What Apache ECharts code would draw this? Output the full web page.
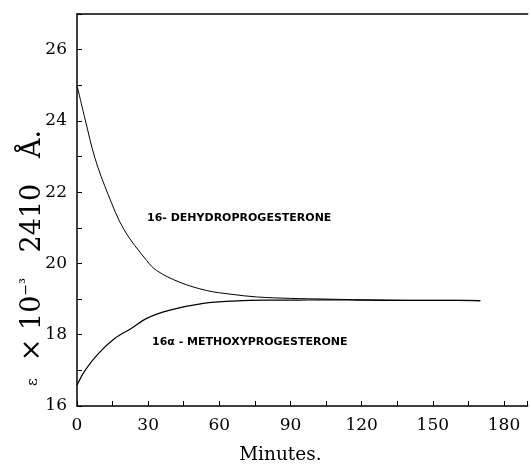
<!DOCTYPE html>
<html>
<head>
<meta charset="utf-8">
<script src="https://cdn.jsdelivr.net/npm/echarts@6/dist/echarts.min.js"></script>
<style>
html,body{margin:0;padding:0;background:#fff;}
#c{width:531px;height:470px;}
</style>
</head>
<body>
<div id="c"></div>
<script>
// Data
var dehydroT = [0, 3.4, 7.6, 13.1, 19.8, 29.4, 33.6, 43.4, 54.7, 64.5, 75.7, 90, 105, 120, 140, 160, 170];
var dehydroV = [25.0, 24.05, 22.95, 21.94, 20.95, 20.08, 19.8, 19.47, 19.24, 19.14, 19.06, 19.02, 19.0, 18.98, 18.97, 18.97, 18.96];
var methoxyT = [0, 3.4, 9.0, 16.0, 23.0, 29.4, 39.2, 53.3, 67.3, 78.5, 90, 105, 120, 140, 160, 170];
var methoxyV = [16.58, 17.0, 17.47, 17.9, 18.18, 18.46, 18.69, 18.88, 18.95, 18.97, 18.97, 18.98, 18.97, 18.96, 18.96, 18.95];
var xTickLabels = [0, 30, 60, 90, 120, 150, 180];
var yTickLabels = [16, 18, 20, 22, 24, 26];
var seriesNames = ['16- DEHYDROPROGESTERONE', '16\u03b1 - METHOXYPROGESTERONE'];

function pairs(t, v) { return t.map(function (x, i) { return [x, v[i]]; }); }

var serif = 'DejaVu Serif';
var chart = echarts.init(document.getElementById('c'), null, {renderer: 'canvas'});
chart.setOption({
  backgroundColor: '#fff',
  animation: false,
  grid: {left: 77, top: 14, right: 3.3, bottom: 57, containLabel: false},
  xAxis: [{
    type: 'value', min: 0, max: 190, interval: 15,
    name: 'Minutes.', nameLocation: 'middle', nameGap: 40,
    nameTextStyle: {fontFamily: serif, fontSize: 18.5, color: '#000', padding: [0, 44, 0, 0]},
    axisLine: {show: true, lineStyle: {color: '#000', width: 1.5}},
    axisTick: {show: true, inside: true, length: 5, lineStyle: {color: '#000', width: 1}},
    axisLabel: {
      fontFamily: serif, fontSize: 17, color: '#000', margin: 11,
      formatter: function (v) { return xTickLabels.indexOf(v) >= 0 ? String(v) : ''; }
    },
    splitLine: {show: false}
  }, {
    type: 'value', min: 0, max: 190, position: 'top',
    axisLine: {show: true, lineStyle: {color: '#000', width: 1.5}},
    axisTick: {show: false}, axisLabel: {show: false}, splitLine: {show: false}
  }],
  yAxis: {
    type: 'value', min: 16, max: 27, interval: 1,
    axisLine: {show: true, lineStyle: {color: '#000', width: 1.5}},
    axisTick: {show: true, inside: true, length: 5, lineStyle: {color: '#000', width: 1}},
    axisLabel: {
      fontFamily: serif, fontSize: 17, color: '#000', margin: 10,
      formatter: function (v) { return yTickLabels.indexOf(v) >= 0 ? String(v) : ''; }
    },
    splitLine: {show: false}
  },
  series: [{
    name: seriesNames[0], type: 'line', smooth: 0.35, showSymbol: false,
    lineStyle: {color: '#000', width: 1}, data: pairs(dehydroT, dehydroV)
  }, {
    name: seriesNames[1], type: 'line', smooth: 0.35, showSymbol: false,
    lineStyle: {color: '#000', width: 1.2}, data: pairs(methoxyT, methoxyV)
  }],
  graphic: [{
    type: 'text', x: 33, y: 258, rotation: Math.PI / 2,
    style: {
      text: '{e|\u03b5}{m|  \u00d7 10}{s|\u2212\u00b3}{m|   2410   \u00c5.}',
      align: 'center', verticalAlign: 'middle', fill: '#000',
      rich: {
        e: {fontFamily: serif, fontSize: 15, fill: '#000', verticalAlign: 'middle'},
        m: {fontFamily: serif, fontSize: 27, fill: '#000'},
        s: {fontFamily: serif, fontSize: 14, fill: '#000', verticalAlign: 'top'}
      }
    }
  }, {
    type: 'text', left: 147, top: 213,
    style: {text: seriesNames[0], font: 'bold 11px "DejaVu Sans"', fill: '#000'}
  }, {
    type: 'text', left: 152, top: 337,
    style: {text: seriesNames[1], font: 'bold 11px "DejaVu Sans"', fill: '#000'}
  }]
});
</script>
</body>
</html>
